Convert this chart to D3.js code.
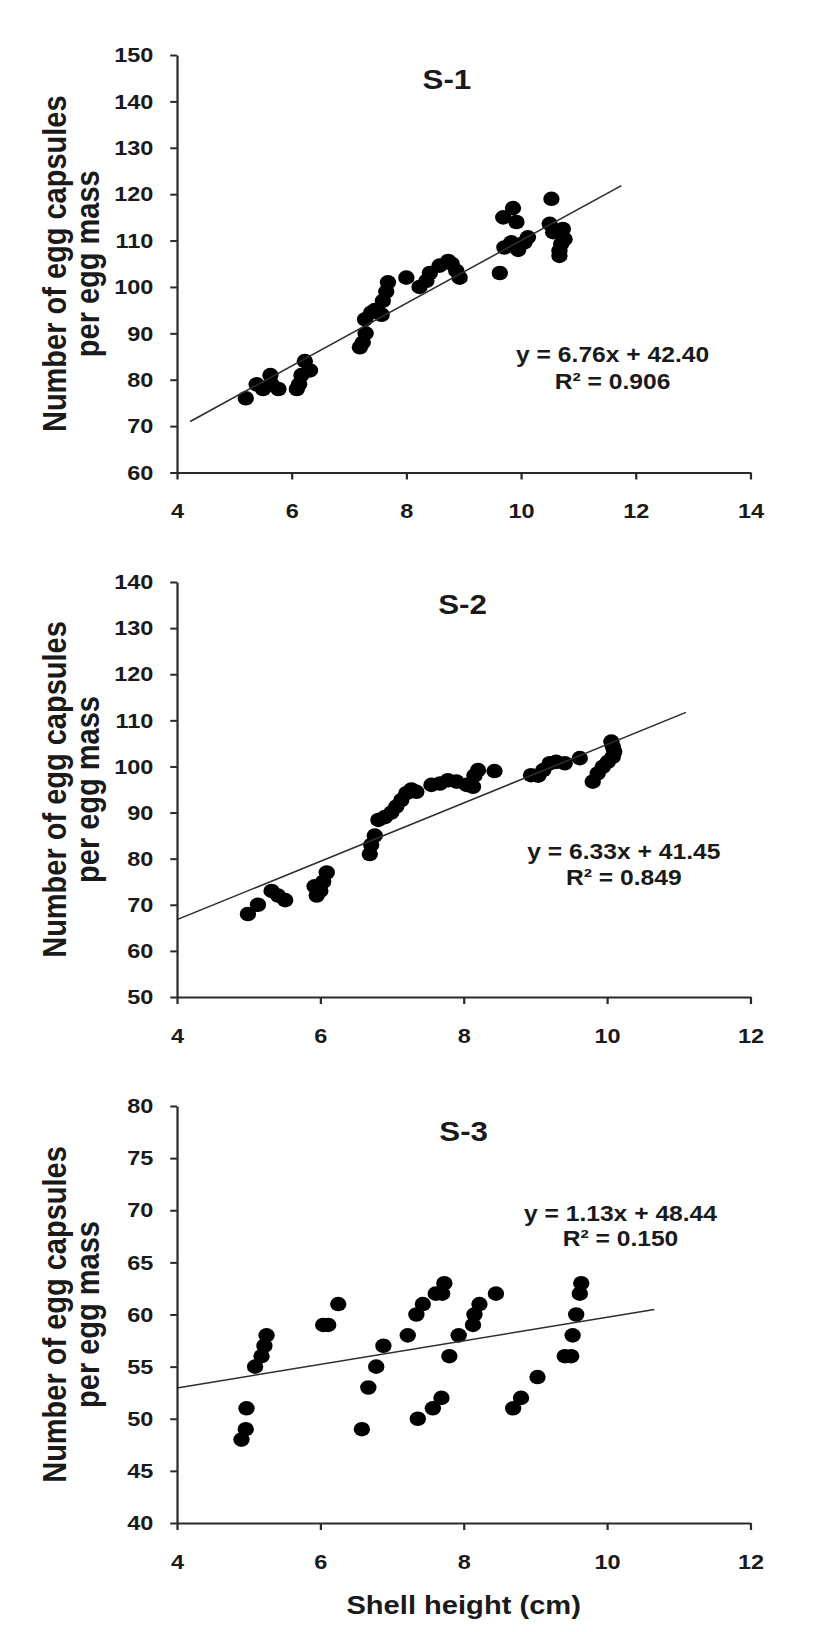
<!DOCTYPE html>
<html>
<head>
<meta charset="utf-8">
<script src="https://cdn.jsdelivr.net/npm/d3@7/dist/d3.min.js"></script>
<style>
    html, body { margin: 0; padding: 0; background: #fff; }
    svg { display: block; }
    text { font-family: "Liberation Sans", Arial, sans-serif; fill: #1a1a1a; }
</style>
</head>
<body>
<div id="chart"></div>
<script>
// S-1 : shell height (cm) vs egg capsules per egg mass
const s1X = [5.20, 5.39, 5.50, 5.63, 5.65, 5.77, 6.09, 6.13, 6.17, 6.23, 6.32,
    7.19, 7.24, 7.29, 7.28, 7.39, 7.45, 7.57, 7.59, 7.65, 7.68, 8.00, 8.23, 8.35,
    8.41, 8.58, 8.73, 8.79, 8.87, 8.93, 9.63, 9.69, 9.86, 9.92, 9.71, 9.83, 9.95,
    10.06, 10.12, 10.53, 10.50, 10.56, 10.73, 10.76, 10.67, 10.67, 10.70];
const s1Y = [76, 79, 78, 81, 79, 78, 78, 79, 81, 84, 82,
    87, 88, 90, 93, 94.5, 95, 94, 97, 99, 101, 102, 100, 101.3,
    103, 104.6, 105.6, 105, 103.5, 102, 103, 115, 117, 114, 108.5, 109.6, 108,
    109.6, 110.7, 119, 113.6, 111.8, 112.5, 110.3, 107.8, 106.7, 109.3];

// S-2
const s2X = [4.99, 5.13, 5.32, 5.41, 5.51, 5.92, 5.95, 6.00, 6.04, 6.09,
    6.69, 6.71, 6.76, 6.81, 6.90, 6.99, 7.06, 7.13, 7.20, 7.27, 7.34, 7.55, 7.67,
    7.78, 7.90, 8.04, 8.13, 8.15, 8.20, 8.43, 8.94, 9.04, 9.11, 9.20, 9.29, 9.41,
    9.62, 9.80, 9.87, 9.94, 10.01, 10.08, 10.08, 10.06, 10.10];
const s2Y = [68, 70, 73, 72, 71, 74, 72, 73, 75, 77,
    81, 83, 85, 88.4, 89, 90, 91.3, 92.7, 94.2, 95, 94.5, 96, 96.3,
    97, 96.7, 96, 95.6, 98, 99.2, 99, 98.1, 98, 99.2, 100.7, 101, 100.7,
    101.8, 96.7, 98.5, 99.9, 101, 102.1, 104.3, 105.4, 103.2];

// S-3
const s3X = [4.90, 4.96, 4.97, 5.09, 5.18, 5.22, 5.25, 6.04, 6.11, 6.25,
    6.58, 6.67, 6.78, 6.88, 7.22, 7.34, 7.43, 7.61, 7.70, 7.73, 7.36, 7.57, 7.69,
    7.80, 7.93, 8.13, 8.15, 8.22, 8.45, 8.69, 8.80, 9.03, 9.41, 9.50, 9.52, 9.57,
    9.62, 9.64];
const s3Y = [48, 49, 51, 55, 56, 57, 58, 59, 59, 61,
    49, 53, 55, 57, 58, 60, 61, 62, 62, 63, 50, 51, 52,
    56, 58, 59, 60, 61, 62, 51, 52, 54, 56, 56, 58, 60,
    62, 63];

// linear fits as printed on the chart, and the x span the trend line covers
const fitSlope = [6.76, 6.33, 1.13];
const fitIntercept = [42.40, 41.45, 48.44];
const fitR2 = ['0.906', '0.849', '0.150'];
const fitSpan = [[4.23, 11.75], [4.0, 11.1], [4.0, 10.66]];

const titles = ['S-1', 'S-2', 'S-3'];
const xDomains = [[4, 14], [4, 12], [4, 12]];
const yDomains = [[60, 150], [50, 140], [40, 80]];
const xTickStep = [2, 2, 2];
const yTickStep = [10, 10, 5];

const yLabelLines = ['Number of egg capsules', 'per egg mass'];
const xLabel = 'Shell height (cm)';

// the source image is stretched sideways, so draw in a narrower box and stretch it
const W = 827, H = 1632, stretch = 1.12;
const innerW = W / stretch;

const plotLeft = 158, plotRight = 670;
const panels = [
    { top: 55, bottom: 472.5, titleX: 399, titleY: 89, eqX: 547, eqY: 362, r2Y: 389 },
    { top: 582, bottom: 997, titleX: 413, titleY: 614, eqX: 557, eqY: 859, r2Y: 885 },
    { top: 1106, bottom: 1523, titleX: 414, titleY: 1141, eqX: 554, eqY: 1221, r2Y: 1246 }
];
const seriesX = [s1X, s2X, s3X];
const seriesY = [s1Y, s2Y, s3Y];

const svg = d3.select('#chart')
    .append('svg')
    .attr('width', W)
    .attr('height', H)
    .attr('viewBox', `0 0 ${innerW} ${H}`)
    .attr('preserveAspectRatio', 'none');

const range = (a, b, step) => d3.range(a, b + step / 2, step);

panels.forEach((p, i) => {
    const g = svg.append('g');

    const x = d3.scaleLinear().domain(xDomains[i]).range([plotLeft, plotRight]);
    const y = d3.scaleLinear().domain(yDomains[i]).range([p.bottom, p.top]);

    // points
    g.append('g')
        .selectAll('circle')
        .data(seriesX[i].map((v, j) => [v, seriesY[i][j]]))
        .enter()
        .append('circle')
        .attr('cx', d => x(d[0]))
        .attr('cy', d => y(d[1]))
        .attr('r', 7.3)
        .attr('fill', '#000');

    // trend line
    const [x0, x1] = fitSpan[i];
    const f = v => fitSlope[i] * v + fitIntercept[i];
    g.append('line')
        .attr('x1', x(x0)).attr('y1', y(f(x0)))
        .attr('x2', x(x1)).attr('y2', y(f(x1)))
        .attr('stroke', '#2e2e2e')
        .attr('stroke-width', 1.5);

    // axes
    const xAxis = d3.axisBottom(x)
        .tickValues(range(xDomains[i][0], xDomains[i][1], xTickStep[i]))
        .tickSize(7)
        .tickSizeOuter(0)
        .tickPadding(24);
    const yAxis = d3.axisLeft(y)
        .tickValues(range(yDomains[i][0], yDomains[i][1], yTickStep[i]))
        .tickSize(6)
        .tickSizeOuter(0)
        .tickPadding(15);

    const styleAxis = sel => {
        sel.selectAll('path, line').attr('stroke', '#2a2a2a').attr('stroke-width', 2);
        sel.selectAll('text')
            .attr('fill', '#1a1a1a')
            .style('font-size', '21px')
            .style('font-weight', 'bold')
            .style('font-family', '"Liberation Sans", Arial, sans-serif');
    };

    g.append('g')
        .attr('transform', `translate(0,${p.bottom})`)
        .call(xAxis)
        .call(styleAxis);
    g.append('g')
        .attr('transform', `translate(${plotLeft},0)`)
        .call(yAxis)
        .call(styleAxis);

    // title
    g.append('text')
        .attr('x', p.titleX)
        .attr('y', p.titleY)
        .attr('text-anchor', 'middle')
        .style('font-size', '28px')
        .style('font-weight', 'bold')
        .text(titles[i]);

    // fit equation
    g.append('text')
        .attr('x', p.eqX)
        .attr('y', p.eqY)
        .attr('text-anchor', 'middle')
        .style('font-size', '22px')
        .style('font-weight', 'bold')
        .text(`y = ${fitSlope[i].toFixed(2)}x + ${fitIntercept[i].toFixed(2)}`);
    g.append('text')
        .attr('x', p.eqX)
        .attr('y', p.r2Y)
        .attr('text-anchor', 'middle')
        .style('font-size', '22px')
        .style('font-weight', 'bold')
        .text(`R\u00B2 = ${fitR2[i]}`);

    // y label, two lines
    const midY = (p.top + p.bottom) / 2;
    yLabelLines.forEach((line, k) => {
        g.append('text')
            .attr('transform', `translate(${[49, 78.5][k]},${midY}) rotate(-90)`)
            .attr('text-anchor', 'middle')
            .attr('dominant-baseline', 'central')
            .style('font-size', '29px')
            .style('font-weight', 'bold')
            .text(line);
    });
});

// x label under the last panel
svg.append('text')
    .attr('x', (plotLeft + plotRight) / 2)
    .attr('y', 1614)
    .attr('text-anchor', 'middle')
    .style('font-size', '26px')
    .style('font-weight', 'bold')
    .text(xLabel);
</script>
</body>
</html>
